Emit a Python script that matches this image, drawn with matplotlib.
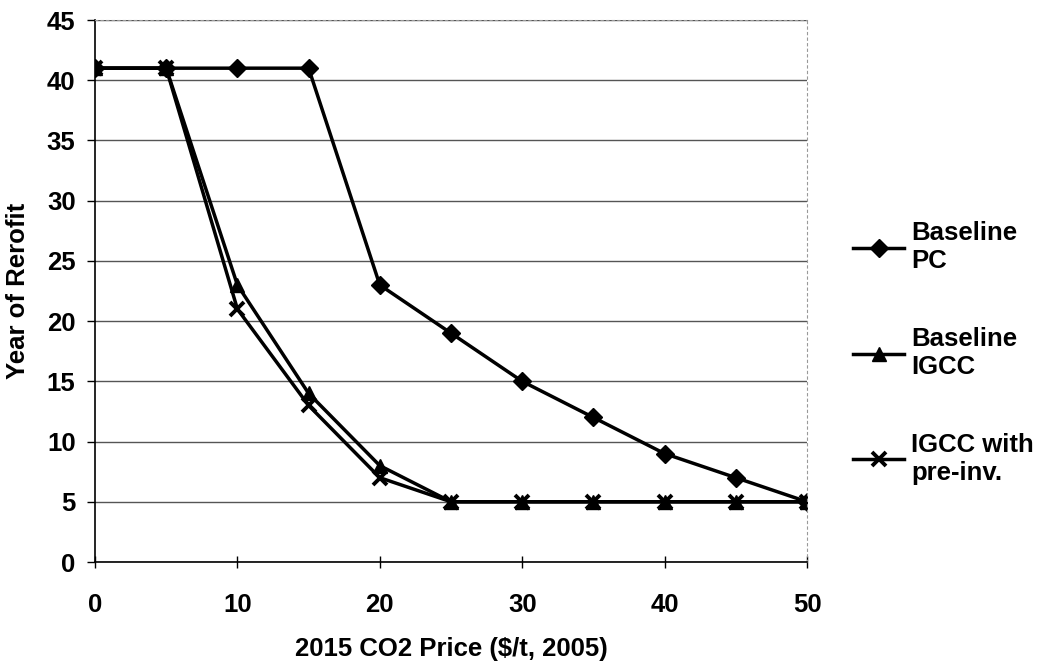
import matplotlib.pyplot as plt

plt.rcParams["font.family"] = ["Liberation Sans", "DejaVu Sans"]
plt.rcParams["font.weight"] = "bold"

co2_price = [0, 5, 10, 15, 20, 25, 30, 35, 40, 45, 50]
baseline_pc = [41, 41, 41, 41, 23, 19, 15, 12, 9, 7, 5]
baseline_igcc = [41, 41, 23, 14, 8, 5, 5, 5, 5, 5, 5]
igcc_preinv = [41, 41, 21, 13, 7, 5, 5, 5, 5, 5, 5]

fig = plt.figure(figsize=(10.39, 6.67), dpi=100)
ax = fig.add_axes([95 / 1039, 1 - 562 / 667, 712 / 1039, 542 / 667])

ax.plot(co2_price, baseline_pc, color="black", marker="D", markersize=9,
        linewidth=2.5, label="Baseline\nPC")
ax.plot(co2_price, baseline_igcc, color="black", marker="^", markersize=10,
        linewidth=2.5, label="Baseline\nIGCC")
ax.plot(co2_price, igcc_preinv, color="black", marker="x", markersize=10,
        markeredgewidth=2.8, linewidth=2.5, label="IGCC with\npre-inv.")

ax.set_xlim(0, 50)
ax.set_ylim(0, 45)
ax.set_xticks(range(0, 51, 10))
ax.set_yticks(range(0, 46, 5))
ax.yaxis.grid(True, color="#555555", linewidth=1)
ax.set_axisbelow(True)

for side in ["top", "right"]:
    ax.spines[side].set_linestyle((0, (2, 3)))
    ax.spines[side].set_color("#999999")
    ax.spines[side].set_linewidth(0.8)
for side in ["left", "bottom"]:
    ax.spines[side].set_linewidth(1.2)

ax.tick_params(axis="both", labelsize=18.5, length=6, width=1)
ax.tick_params(axis="y", pad=8)
ax.tick_params(axis="x", direction="inout", length=8, pad=18)

ax.set_xlabel("2015 CO2 Price ($/t, 2005)", fontsize=18.5, fontweight="bold",
              labelpad=15)
ax.set_ylabel("Year of Rerofit", fontsize=18.5, fontweight="bold", labelpad=12)

ax.legend(loc="center left", bbox_to_anchor=(853 / 1039, 1 - 353 / 667),
          bbox_transform=fig.transFigure, frameon=False, borderpad=0,
          borderaxespad=0, fontsize=18.5, labelspacing=2.1,
          handlelength=2.0, handletextpad=0.27)

fig.savefig("out.png", dpi=100)
